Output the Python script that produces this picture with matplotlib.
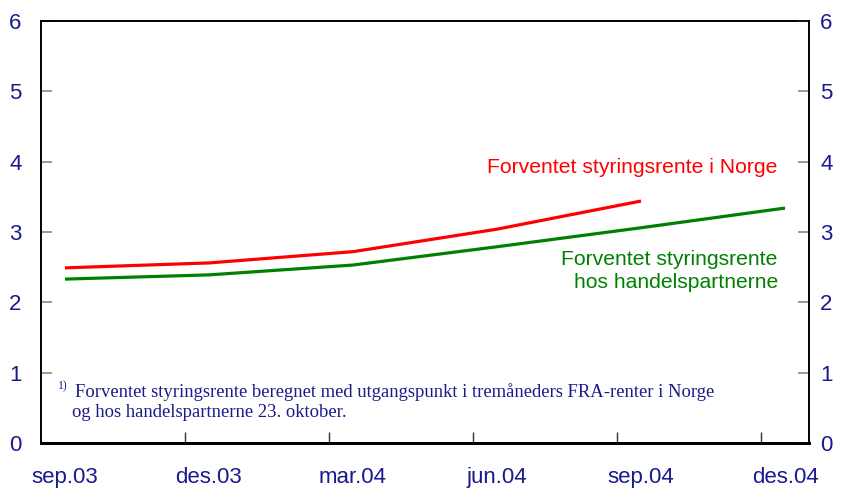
import numpy as np
import matplotlib.pyplot as plt

# kvartalsvise observasjoner (måneder fra aug.03)
maaneder_norge = [0.5, 3.5, 6.5, 9.5, 12.5]
rente_norge = [2.49, 2.56, 2.72, 3.04, 3.44]

maaneder_handel = [0.5, 3.5, 6.5, 9.5, 12.5, 15.5]
rente_handel = [2.33, 2.39, 2.53, 2.79, 3.06, 3.34]

x_etiketter = ['sep.03', 'des.03', 'mar.04', 'jun.04', 'sep.04', 'des.04']
y_ticks = [0, 1, 2, 3, 4, 5, 6]

navy = '#1a1a8c'
plt.rcParams['font.family'] = ['Liberation Sans', 'DejaVu Sans']

fig = plt.figure(figsize=(8.43, 4.96), dpi=100)
ax = fig.add_axes([0.0486, 0.1069, 0.9111, 0.8508])

ax.plot(maaneder_norge, rente_norge, color='#ff0000', lw=2.3, solid_capstyle='butt')
ax.plot(maaneder_handel, rente_handel, color='#008000', lw=2.3, solid_capstyle='butt')

ax.set_xlim(0, 16)
ax.set_ylim(0, 6)

# x-akse: streker mellom kvartaler, etiketter midt i
ax.set_xticks([3, 6, 9, 12, 15])
ax.set_xticklabels([])
ax.set_xticks(maaneder_handel, minor=True)
ax.set_xticklabels(x_etiketter, minor=True)
ax.tick_params(axis='x', which='major', direction='in', length=8, width=1, color='#333333')
ax.tick_params(axis='x', which='minor', length=0, pad=17, labelsize=16, labelcolor=navy)

# y-akse venstre
ax.set_yticks(y_ticks)
ax.tick_params(axis='y', direction='in', length=8, width=1.2, color='#888888',
               labelsize=16, labelcolor=navy, pad=14)

# y-akse høyre
ax2 = ax.twinx()
ax2.set_ylim(0, 6)
ax2.set_yticks(y_ticks)
ax2.tick_params(axis='y', direction='in', length=8, width=1.2, color='#888888',
                labelsize=16, labelcolor=navy, pad=8)

for a in (ax, ax2):
    for s in ['left', 'right', 'top']:
        a.spines[s].set_linewidth(1.2)
    a.spines['bottom'].set_linewidth(2)

ax.text(15.35, 3.91, 'Forventet styringsrente i Norge', color='#ff0000',
        fontsize=15.2, ha='right', va='center')
ax.text(15.35, 2.45, 'Forventet styringsrente\nhos handelspartnerne', color='#008000',
        fontsize=15.2, ha='right', va='center', linespacing=1.25)

# fotnote
ax.text(0.35, 0.80, '1)', color=navy, fontsize=8.5, family='Liberation Serif',
        va='center', ha='left')
ax.text(0.70, 0.725, 'Forventet styringsrente beregnet med utgangspunkt i tremåneders FRA-renter i Norge',
        color=navy, fontsize=13.4, family='Liberation Serif', va='center', ha='left')
ax.text(0.64, 0.44, 'og hos handelspartnerne 23. oktober.',
        color=navy, fontsize=13.4, family='Liberation Serif', va='center', ha='left')

fig.savefig('out.png', dpi=100)
